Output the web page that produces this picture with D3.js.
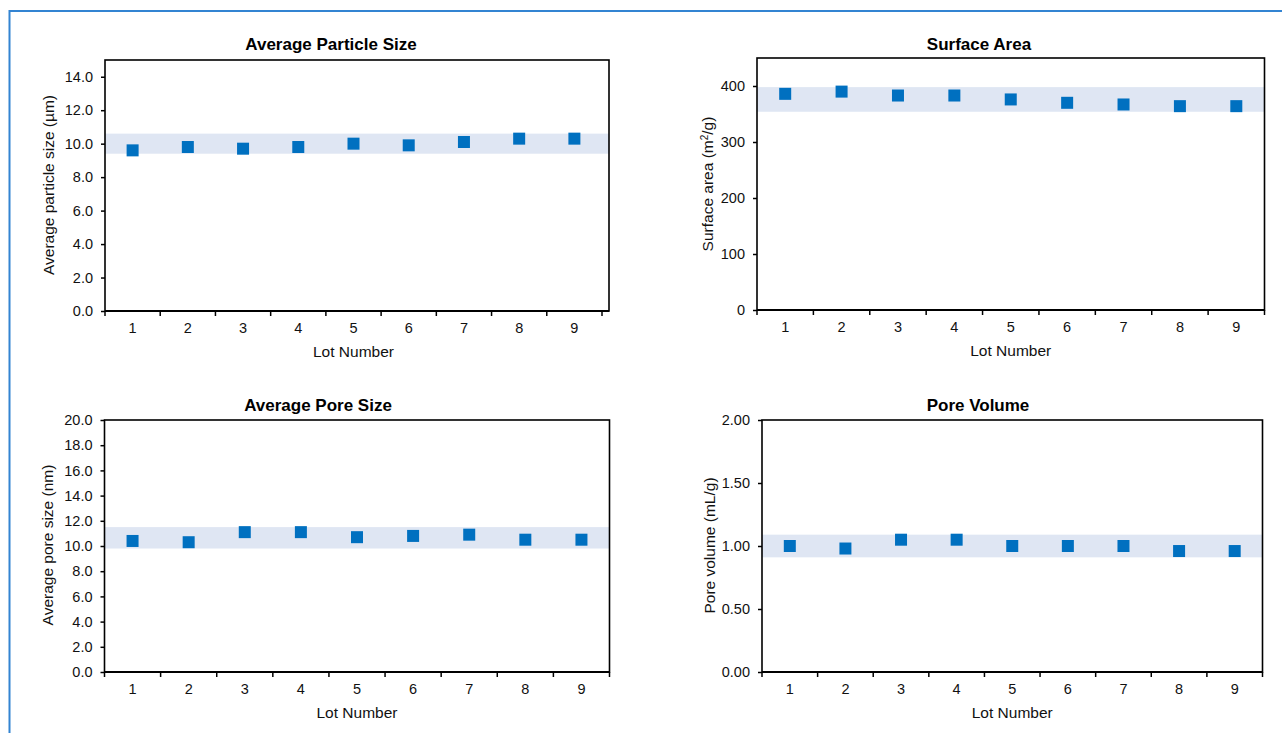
<!DOCTYPE html>
<html>
<head>
<meta charset="utf-8">
<script src="https://cdn.jsdelivr.net/npm/d3@7"></script>
<style>
  body { margin: 0; background: #fff; }
  svg { display: block; font-family: "Liberation Sans", Arial, sans-serif; }
  .tick text { font-size: 14.5px; fill: #111; }
  .title { font-size: 17px; font-weight: bold; fill: #000; }
  .axisLabel { font-size: 15.5px; fill: #111; }
</style>
</head>
<body>
<div id="chart"></div>
<script>
// lots on the x axis
var lots = ["1", "2", "3", "4", "5", "6", "7", "8", "9"];

// measured values per lot
var particleSize = [9.6, 9.8, 9.7, 9.8, 10.0, 9.9, 10.1, 10.3, 10.3];
var surfaceArea = [386, 390, 383, 383, 376, 370, 367, 364, 364];
var poreSize = [10.4, 10.3, 11.1, 11.1, 10.7, 10.8, 10.9, 10.5, 10.5];
var poreVolume = [1.00, 0.98, 1.05, 1.05, 1.00, 1.00, 1.00, 0.96, 0.96];

// shaded spec ranges [low, high]
var particleSizeSpec = [9.4, 10.6];
var surfaceAreaSpec = [354, 398];
var poreSizeSpec = [9.8, 11.5];
var poreVolumeSpec = [0.91, 1.09];

// y tick values
var particleSizeTicks = [0, 2, 4, 6, 8, 10, 12, 14];
var surfaceAreaTicks = [0, 100, 200, 300, 400];
var poreSizeTicks = [0, 2, 4, 6, 8, 10, 12, 14, 16, 18, 20];
var poreVolumeTicks = [0, 0.5, 1.0, 1.5, 2.0];

var width = 1282, height = 733;

var svg = d3.select("#chart").append("svg")
	.attr("width", width)
	.attr("height", height);

//Blue frame round the figure (top and left edges only are visible)
svg.append("path")
	.attr("d", "M9.5,733 V11 H1282")
	.style("fill", "none")
	.style("stroke", "#3384d2")
	.style("stroke-width", 2);

///////////////////////////////////////////////////////////////////////////
//////////////////////////// Draw one panel ///////////////////////////////
///////////////////////////////////////////////////////////////////////////

function drawPanel(p) {
	var g = svg.append("g").attr("class", "panel");

	var y = d3.scaleLinear().domain(p.yDomain).range([p.y1, p.y0]);
	var x = d3.scaleBand().domain(lots).range([p.x0, p.xEnd]);

	//Spec band
	g.append("rect")
		.attr("x", p.x0)
		.attr("width", p.x1 - p.x0)
		.attr("y", y(p.spec[1]))
		.attr("height", y(p.spec[0]) - y(p.spec[1]))
		.style("fill", "#dfe6f3");

	//Plot box
	g.append("rect")
		.attr("x", p.x0)
		.attr("y", p.y0)
		.attr("width", p.x1 - p.x0)
		.attr("height", p.y1 - p.y0)
		.style("fill", "none")
		.style("stroke", "#000")
		.style("stroke-width", 1.6);

	//Y axis
	var yAxis = g.append("g")
		.attr("transform", "translate(" + p.x0 + ",0)")
		.call(d3.axisLeft(y).tickValues(p.ticks).tickFormat(d3.format(p.fmt)).tickSize(4).tickPadding(8));
	yAxis.select(".domain").remove();
	yAxis.selectAll(".tick line").style("stroke-width", 1.5);

	//X axis: labels centred in bands, ticks on band edges
	var xAxis = g.append("g")
		.attr("transform", "translate(0," + p.y1 + ")")
		.call(d3.axisBottom(x).tickSize(0).tickPadding(12));
	xAxis.select(".domain")
		.attr("d", "M" + p.x0 + ",0H" + p.x1)
		.style("stroke-width", 2.2);
	var edges = lots.map(function(d) { return x(d); }).concat([x(lots[lots.length - 1]) + x.bandwidth()]);
	xAxis.selectAll(".edge")
		.data(edges)
		.enter().append("line")
		.attr("class", "edge")
		.attr("x1", function(d) { return d; })
		.attr("x2", function(d) { return d; })
		.attr("y1", 0)
		.attr("y2", 5)
		.style("stroke", "#000")
		.style("stroke-width", 1.5);

	//Markers
	var s = 12;
	g.selectAll(".marker")
		.data(p.values)
		.enter().append("rect")
		.attr("class", "marker")
		.attr("x", function(d, i) { return x(lots[i]) + x.bandwidth() / 2 - s / 2; })
		.attr("y", function(d) { return y(d) - s / 2; })
		.attr("width", s)
		.attr("height", s)
		.style("fill", "#0070c0");

	//Title
	g.append("text")
		.attr("class", "title")
		.attr("x", p.titleX)
		.attr("y", p.titleY)
		.style("text-anchor", "middle")
		.text(p.title);

	//X label
	g.append("text")
		.attr("class", "axisLabel")
		.attr("x", (p.x0 + p.xEnd) / 2)
		.attr("y", p.y1 + 46)
		.style("text-anchor", "middle")
		.text("Lot Number");

	//Y label
	var yl = g.append("text")
		.attr("class", "axisLabel")
		.attr("transform", "translate(" + p.yLabelX + "," + p.yLabelY + ") rotate(-90)")
		.style("text-anchor", "middle");
	if (p.sup) {
		yl.append("tspan").text(p.yLabel[0]);
		yl.append("tspan").attr("dy", -5).style("font-size", "10px").text(p.sup);
		yl.append("tspan").attr("dy", 5).text(p.yLabel[1]);
	} else {
		yl.text(p.yLabel);
	}
}

drawPanel({
	title: "Average Particle Size", titleX: 331, titleY: 50,
	x0: 105, x1: 609, xEnd: 602, y0: 60, y1: 311,
	yDomain: [0, 15], ticks: particleSizeTicks, fmt: ".1f",
	values: particleSize, spec: particleSizeSpec,
	yLabel: "Average particle size (\u00b5m)", yLabelX: 53.5, yLabelY: 185
});

drawPanel({
	title: "Surface Area", titleX: 979, titleY: 50,
	x0: 757, x1: 1264.5, xEnd: 1264.5, y0: 58, y1: 310,
	yDomain: [0, 450], ticks: surfaceAreaTicks, fmt: "d",
	values: surfaceArea, spec: surfaceAreaSpec,
	yLabel: ["Surface area (m", "/g)"], sup: "2", yLabelX: 713, yLabelY: 184
});

drawPanel({
	title: "Average Pore Size", titleX: 318, titleY: 411,
	x0: 104.5, x1: 609.5, xEnd: 609.5, y0: 420, y1: 672,
	yDomain: [0, 20], ticks: poreSizeTicks, fmt: ".1f",
	values: poreSize, spec: poreSizeSpec,
	yLabel: "Average pore size (nm)", yLabelX: 52.5, yLabelY: 545
});

drawPanel({
	title: "Pore Volume", titleX: 978, titleY: 411,
	x0: 762, x1: 1262.5, xEnd: 1262.5, y0: 420, y1: 672,
	yDomain: [0, 2], ticks: poreVolumeTicks, fmt: ".2f",
	values: poreVolume, spec: poreVolumeSpec,
	yLabel: "Pore volume (mL/g)", yLabelX: 714.5, yLabelY: 545.5
});
</script>
</body>
</html>
